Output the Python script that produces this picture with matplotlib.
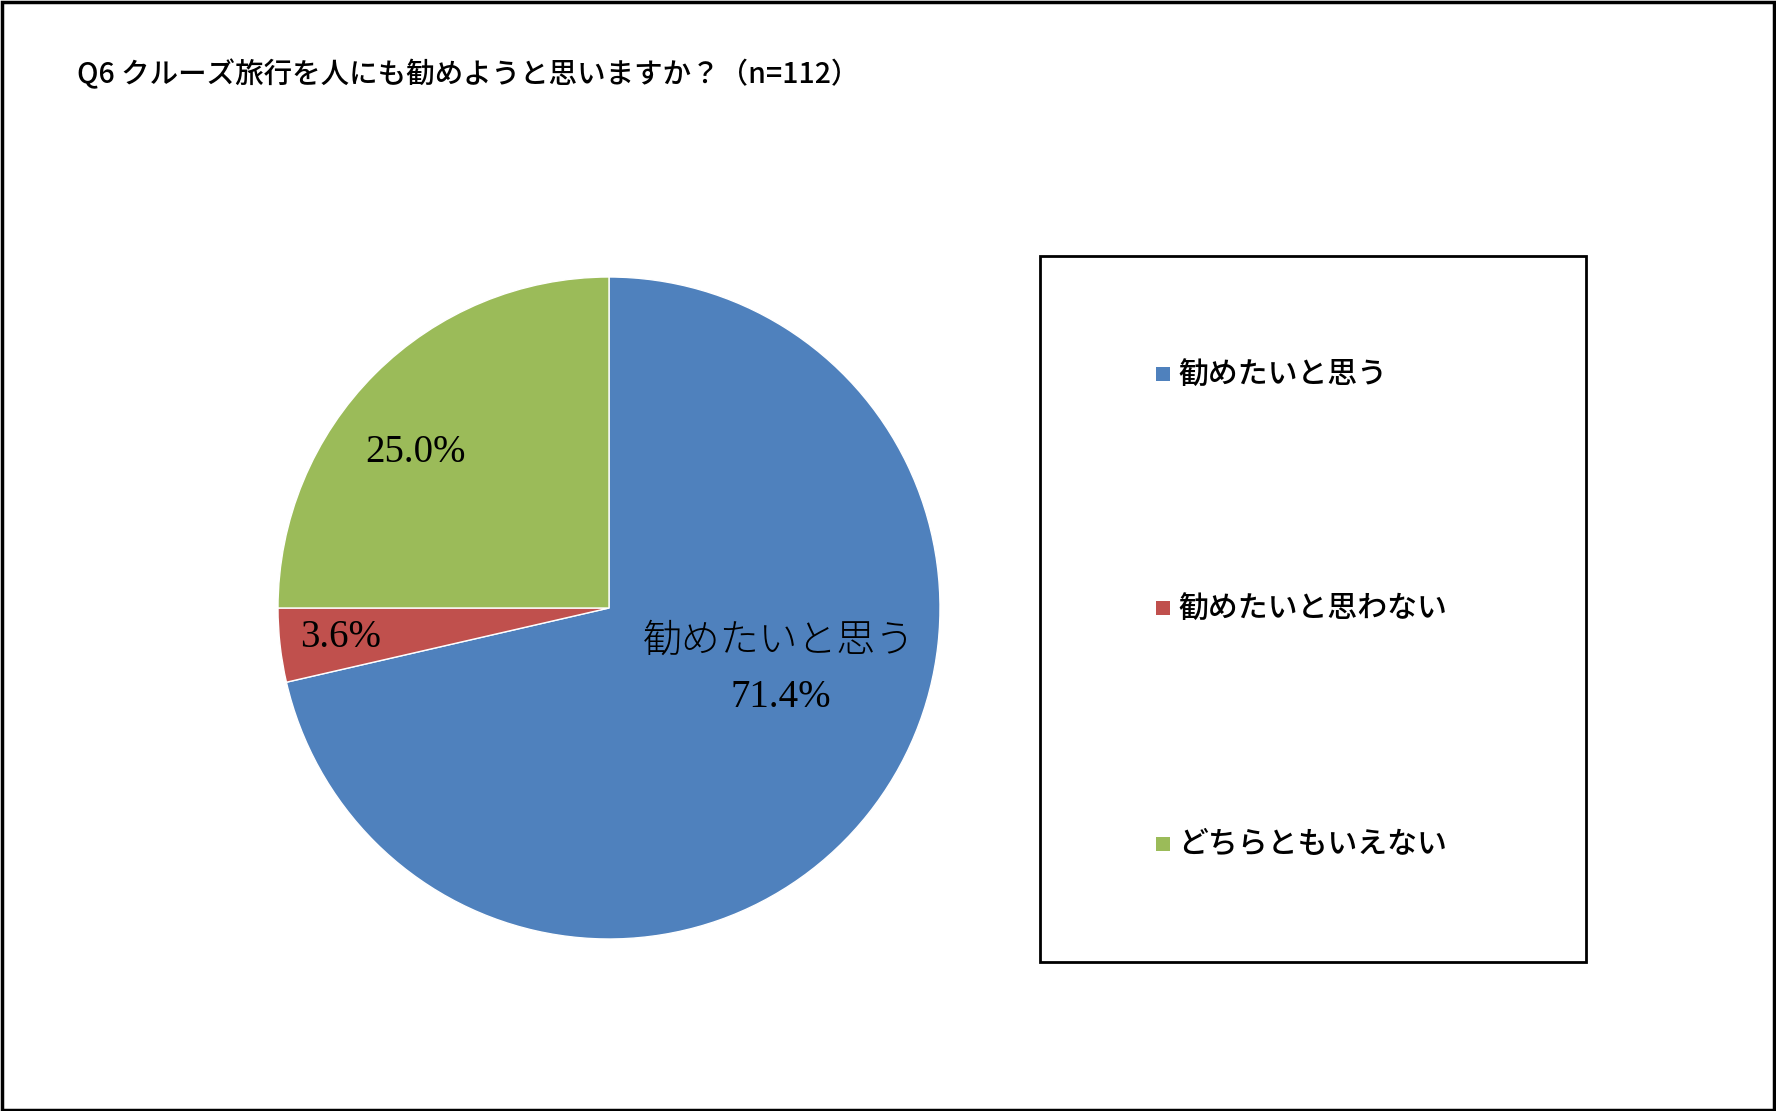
import matplotlib
matplotlib.use("Agg")
import matplotlib.pyplot as plt
from matplotlib.patches import Rectangle

labels = ["勧めたいと思う", "勧めたいと思わない", "どちらともいえない"]
values = [71.4, 3.6, 25.0]
colors = ["#4F81BD", "#C0504D", "#9BBB59"]
title = "Q6 クルーズ旅行を人にも勧めようと思いますか？（n=112）"

W, H = 1776, 1111
fig = plt.figure(figsize=(W/100, H/100), dpi=100)
jp = ["Noto Sans CJK JP", "DejaVu Sans"]
serif = ["Liberation Serif", "DejaVu Serif"]

fig.patches.append(Rectangle((0.001, 0.001), 0.998, 0.997, transform=fig.transFigure,
                             fill=False, edgecolor="black", linewidth=2.5))

fig.text(77/W, 1-74/H, title, family=jp, fontsize=20.5, va="center", ha="left", fontweight="medium")

cx, cy, r = 609, 608, 331
ax = fig.add_axes([(cx-r)/W, (H-cy-r)/H, 2*r/W, 2*r/H])
wedges, _ = ax.pie(values, colors=colors, startangle=90, counterclock=False,
                   wedgeprops=dict(edgecolor="white", linewidth=1.0))
ax.set_aspect("equal")
ax.set_xlim(-1, 1); ax.set_ylim(-1, 1)

ax.text(0.514, -0.10, labels[0], family=jp, fontsize=28, ha="center", va="center", fontweight="light")
ax.text(0.52, -0.27, f"{values[0]:.1f}%", family=serif, fontsize=28, ha="center", va="center")
ax.text(-0.81, -0.09, f"{values[1]:.1f}%", family=serif, fontsize=28, ha="center", va="center")
ax.text(-0.585, 0.47, f"{values[2]:.1f}%", family=serif, fontsize=28, ha="center", va="center")

lx0, ly0, lx1, ly1 = 1040, 256, 1586, 962
fig.patches.append(Rectangle((lx0/W, 1-ly1/H), (lx1-lx0)/W, (ly1-ly0)/H, transform=fig.transFigure,
                             fill=False, edgecolor="black", linewidth=2))
ys = [374, 608, 844]
for lab, c, y in zip(labels, colors, ys):
    s = 14
    fig.patches.append(Rectangle(((1163-s/2)/W, 1-(y+s/2)/H), s/W, s/H, transform=fig.transFigure,
                                 facecolor=c, edgecolor="none"))
    fig.text(1178/W, 1-y/H, lab, family=jp, fontsize=21.5, va="center", ha="left", fontweight="medium")

fig.savefig("out.png", dpi=100)
